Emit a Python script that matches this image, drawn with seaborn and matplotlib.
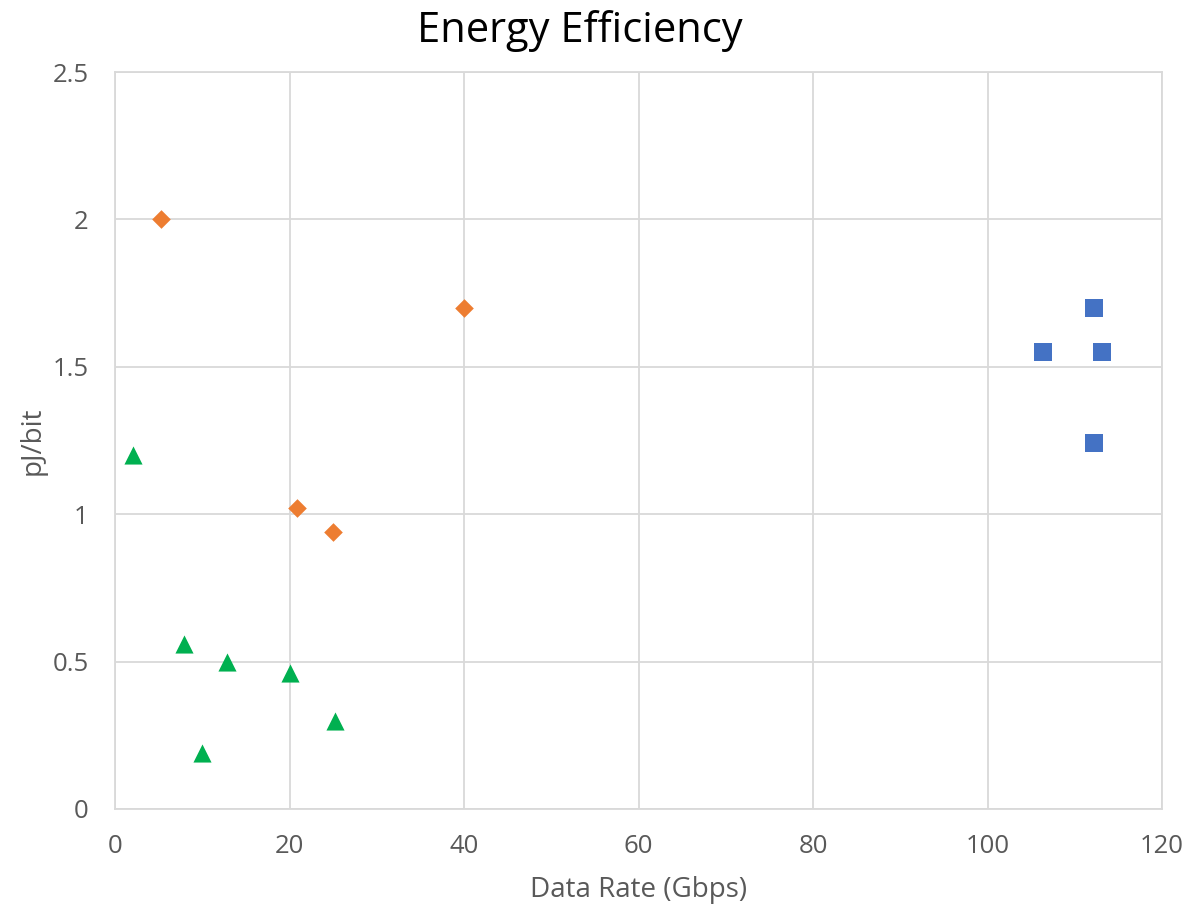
import matplotlib
matplotlib.use("Agg")
import matplotlib.pyplot as plt
import seaborn as sns
import pandas as pd

# Data
blue_x = [106.4, 112.2, 113.1, 112.2]
blue_y = [1.55, 1.70, 1.55, 1.24]
orange_x = [5.3, 40.0, 20.9, 25.0]
orange_y = [2.00, 1.70, 1.02, 0.94]
green_x = [2.0, 7.9, 12.8, 20.0, 25.2, 10.0]
green_y = [1.20, 0.56, 0.50, 0.46, 0.30, 0.19]

df = pd.concat([
    pd.DataFrame({"x": blue_x, "y": blue_y, "g": "blue"}),
    pd.DataFrame({"x": orange_x, "y": orange_y, "g": "orange"}),
    pd.DataFrame({"x": green_x, "y": green_y, "g": "green"}),
])

sns.set_theme(style="white")
plt.rcParams['font.family'] = ['Open Sans', 'DejaVu Sans']

fig = plt.figure(figsize=(11.91, 9.10), dpi=100)
ax = fig.add_axes([0.0966, 0.111, 0.8791, 0.8098])

palette = {"blue": "#4472C4", "orange": "#ED7D31", "green": "#00B050"}
markers = {"blue": "s", "orange": "D", "green": "^"}
sizes = {"blue": 150, "orange": 90, "green": 170}
for g in ["blue", "orange", "green"]:
    sub = df[df.g == g]
    sns.scatterplot(data=sub, x="x", y="y", ax=ax, color=palette[g], marker=markers[g],
                    s=sizes[g], linewidth=0, legend=False, zorder=3, clip_on=False)

ax.set_xlim(0, 120)
ax.set_ylim(0, 2.5)
ax.set_xticks([0, 20, 40, 60, 80, 100, 120])
ax.set_yticks([0, 0.5, 1, 1.5, 2, 2.5])
ax.set_yticklabels(["0", "0.5", "1", "1.5", "2", "2.5"])
ax.grid(True, color="#d9d9d9", linewidth=1.3)
ax.set_axisbelow(True)
for s in ax.spines.values():
    s.set_color("#d9d9d9")
    s.set_linewidth(1.3)
ax.tick_params(axis="both", length=0, labelsize=18.5, labelcolor="#595959")
ax.tick_params(axis="y", pad=19)
ax.tick_params(axis="x", pad=18)
ax.set_xlabel("Data Rate (Gbps)", fontsize=20, color="#595959", labelpad=12)
ax.set_ylabel("pJ/bit", fontsize=20, color="#595959", labelpad=4)
ax.set_title("Energy Efficiency", fontsize=30, color="black", pad=22, x=0.444)

fig.savefig("out.png", dpi=100)
